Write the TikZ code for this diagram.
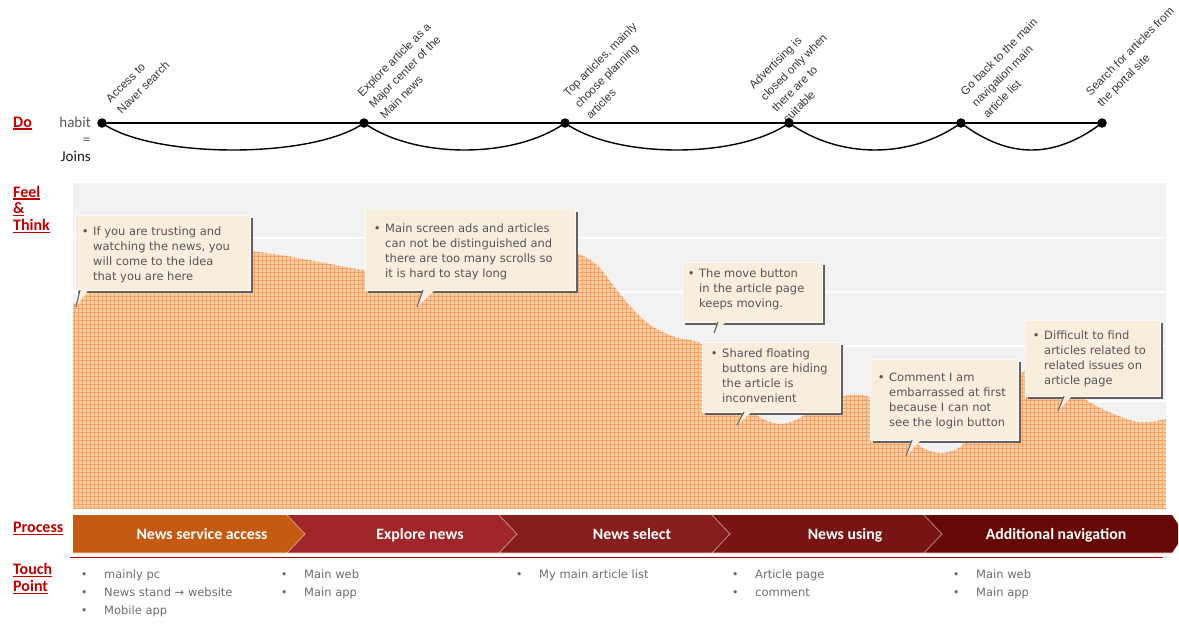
\documentclass[tikz,border=0pt]{standalone}
\usepackage{fontspec}
\setmainfont{DejaVu Sans}
\newfontfamily\calfont{DejaVu Sans}
\newfontfamily\labfont{Carlito}
\newfontfamily\arfont{Liberation Sans}
\usetikzlibrary{shadows}
\definecolor{redlab}{RGB}{192,0,0}
\definecolor{panelbg}{RGB}{242,242,242}
\definecolor{orfill}{RGB}{250,204,163}
\definecolor{orline}{RGB}{244,163,100}
\definecolor{callbg}{RGB}{249,237,222}
\definecolor{calltxt}{RGB}{85,85,85}
\definecolor{tptxt}{RGB}{110,110,110}
\definecolor{dolabc}{RGB}{55,55,55}
\definecolor{segA}{RGB}{197,90,18}
\definecolor{segB}{RGB}{160,38,42}
\definecolor{segC}{RGB}{135,30,30}
\definecolor{segD}{RGB}{120,20,20}
\definecolor{segE}{RGB}{102,8,8}
\newcommand{\ulred}[1]{\vtop{\hbox{#1}\kern1.3pt\hrule height1.4pt}}
\newcommand{\cbul}{\llap{•\hspace{4.6pt}}}
\newcommand{\tbul}{\llap{•\hspace{16.6pt}}}
\begin{document}
\begin{tikzpicture}[x=1pt,y=-1pt,
  lab/.style={inner sep=0pt, anchor=base west, text=redlab, font=\labfont\bfseries\fontsize{16}{18}\selectfont},
  habitlab/.style={inner sep=0pt, anchor=base east, font=\labfont\fontsize{15}{17}\selectfont},
  dolab/.style={rotate=45, anchor=south west, align=left, inner sep=0pt, text=dolabc, font=\arfont\fontsize{11.5}{16}\selectfont},
  dot/.style={circle, fill=black, inner sep=0pt, minimum size=9.5pt},
  mainline/.style={line width=1.8pt, black},
  arcline/.style={line width=1.4pt, black},
  orgrid/.style={orline, line width=0.55pt},
  callbox/.style={fill=callbg, inner sep=0pt, anchor=north west, draw=white!70!callbg, line width=0.6pt,
     drop shadow={shadow xshift=2.5pt, shadow yshift=-2.5pt, fill=black!62, opacity=1}},
  calltext/.style={anchor=north west, inner sep=0pt, align=left, text=calltxt, font=\calfont\fontsize{11.5}{15.2}\selectfont},
  tailfill/.style={fill=callbg},
  tailedge/.style={draw=black!60, line width=1.1pt},
  tptext/.style={anchor=north west, inner sep=0pt, align=left, text=tptxt, font=\calfont\fontsize{11.5}{18}\selectfont},
  proctext/.style={anchor=base, inner sep=0pt, text=white, font=\labfont\bfseries\fontsize{15.8}{18}\selectfont},
  sepline/.style={draw=white, draw opacity=0.45, line width=0.8pt}
]
\useasboundingbox[fill=white] (0,0) rectangle (1179,630);

% ---------- left row labels ----------
\node[lab] (ldo) at (13,127) {\ulred{Do}};
\node[lab] (lfeel) at (13,197) {\ulred{Feel}};
\node[lab] (land) at (13,213.5) {\ulred{\&}};
\node[lab] (lthink) at (13,230.5) {\ulred{Think}};
\node[lab] (lproc) at (13,532.5) {\ulred{Process}};
\node[lab] (ltouch) at (13,574.5) {\ulred{Touch}};
\node[lab] (lpoint) at (13,591.5) {\ulred{Point}};

\node[habitlab, text=black!65] (hab) at (91,127.3) {habit};
\node[habitlab, text=black!65] (heq) at (90.5,144) {=};
\node[habitlab, text=black!90] (hjoin) at (91,161.7) {Joins};

% ---------- Do row ----------
\node[dolab] (t1) at (122,115) {Access to\\Naver search};
\node[dolab] (t2) at (385,120) {Explore article as a\\Major center of the\\Main news};
\node[dolab] (t3) at (591,120) {Top articles, mainly\\choose planning\\articles};
\node[dolab] (t4) at (788,124) {Advertising is\\closed only when\\there are to\\suitable};
\node[dolab] (t5) at (988,119) {Go back to the main\\navigation main\\article list};
\node[dolab] (t6) at (1103.5,109.5) {Search for articles from\\the portal site};

\node[dot] (d1) at (102,123) {};
\node[dot] (d2) at (364,123) {};
\node[dot] (d3) at (565,123) {};
\node[dot] (d4) at (789,123) {};
\node[dot] (d5) at (961,123) {};
\node[dot] (d6) at (1102,123) {};
\draw[mainline] (d1.center) -- (d6.center);
\draw[arcline] (d1.center) .. controls +(51,36) and +(-51,36) .. (d2.center);
\draw[arcline] (d2.center) .. controls +(51,36) and +(-51,36) .. (d3.center);
\draw[arcline] (d3.center) .. controls +(51,36) and +(-51,36) .. (d4.center);
\draw[arcline] (d4.center) .. controls +(51,36) and +(-51,36) .. (d5.center);
\draw[arcline] (d5.center) .. controls +(48,36) and +(-48,36) .. (d6.center);

% ---------- Feel & Think panel ----------
\fill[panelbg] (73,183) rectangle (1166,509);
\foreach \ly in {238,292,346,401,455} \draw[white, line width=1.3pt] (73,\ly) -- (1166,\ly);
\begin{scope}
\clip plot[smooth, tension=0.5] coordinates {(73,305) (120,271) (175,253) (225,249) (280,255) (330,264) (365,270) (420,270) (480,262) (540,254) (575,253) (597,265) (613,285) (630,306) (650,325) (675,337) (700,343) (722,362) (745,404) (763,419) (780,424) (796,420) (812,410) (832,399) (852,395) (872,398) (897,421) (920,446) (940,453) (960,447) (985,420) (1008,386) (1025,371) (1045,373) (1070,390) (1100,408) (1133,421) (1150,422) (1166,419)} -- (1166,509) -- (73,509) -- cycle;
\fill[orfill] (73,230) rectangle (1166,509);
\foreach \gx in {74,78,...,1166} \draw[orgrid] (\gx,230) -- (\gx,510);
\foreach \gy in {232,236,...,509} \draw[orgrid] (73,\gy) -- (1166,\gy);
\end{scope}

% callout boxes
\node[callbox, minimum width=175pt, minimum height=75pt] (c1) at (75,215) {};
\node[callbox, minimum width=210pt, minimum height=81pt] (c2) at (365,209) {};
\node[callbox, minimum width=140pt, minimum height=60pt] (c3) at (682,262) {};
\node[callbox, minimum width=138pt, minimum height=70pt] (c4) at (702,342) {};
\node[callbox, minimum width=148pt, minimum height=81pt] (c5) at (870,359) {};
\node[callbox, minimum width=135pt, minimum height=76pt] (c6) at (1025,320) {};

% tails
\fill[tailfill] (80,289) -- (89,289) -- (76,307) -- cycle;
\draw[tailedge] (80,290) -- (76,307);
\fill[tailfill] (423,289) -- (436,289) -- (417,307) -- cycle;
\draw[tailedge] (423,290) -- (417,307);
\fill[tailfill] (718,321) -- (727,321) -- (714,333) -- cycle;
\draw[tailedge] (718,322) -- (714,333);
\fill[tailfill] (744,411) -- (753,411) -- (737,425) -- cycle;
\draw[tailedge] (744,412) -- (737,425);
\fill[tailfill] (912,439) -- (922,439) -- (906,456) -- cycle;
\draw[tailedge] (912,440) -- (906,456);
\fill[tailfill] (1064,395) -- (1073,395) -- (1058,411) -- cycle;
\draw[tailedge] (1064,396) -- (1058,411);

\node[calltext] (ct1) at (93,226.3) {\cbul If you are trusting and\\watching the news, you\\will come to the idea\\that you are here};
\node[calltext] (ct2) at (385,223.3) {\cbul Main screen ads and articles\\can not be distinguished and\\there are too many scrolls so\\it is hard to stay long};
\node[calltext] (ct3) at (699,268.3) {\cbul The move button\\in the article page\\keeps moving.};
\node[calltext] (ct4) at (722,348.3) {\cbul Shared floating\\buttons are hiding\\the article is\\inconvenient};
\node[calltext] (ct5) at (889,372.3) {\cbul Comment I am\\embarrassed at first\\because I can not\\see the login button};
\node[calltext] (ct6) at (1044,330.3) {\cbul Difficult to find\\articles related to\\related issues on\\article page};

% ---------- Process bar ----------
\fill[segA] (73,515) -- (287,515) -- (305,534) -- (287,553) -- (73,553) -- cycle;
\fill[segB] (287,515) -- (499,515) -- (517,534) -- (499,553) -- (287,553) -- (305,534) -- cycle;
\fill[segC] (499,515) -- (712,515) -- (730,534) -- (712,553) -- (499,553) -- (517,534) -- cycle;
\fill[segD] (712,515) -- (924,515) -- (942,534) -- (924,553) -- (712,553) -- (730,534) -- cycle;
\fill[segE] (924,515) -- (1172,515) -- (1178,524) -- (1178,544) -- (1172,553) -- (924,553) -- (942,534) -- cycle;
\draw[sepline] (287,515) -- (305,534) -- (287,553);
\draw[sepline] (499,515) -- (517,534) -- (499,553);
\draw[sepline] (712,515) -- (730,534) -- (712,553);
\draw[sepline] (924,515) -- (942,534) -- (924,553);
\draw[white, opacity=0.3, line width=1pt] (73,552.5) -- (1172,552.5);
\draw[redlab, line width=1pt] (70,557.5) -- (1163,557.5);

\node[proctext] (p1) at (202,539.3) {News service access};
\node[proctext] (p2) at (420,539.3) {Explore news};
\node[proctext] (p3) at (632,539.3) {News select};
\node[proctext] (p4) at (845,539.3) {News using};
\node[proctext] (p5) at (1056,539.3) {Additional navigation};

% ---------- Touch points ----------
\node[tptext] (tp1) at (104,569.3) {\tbul mainly pc\\\tbul News stand → website\\\tbul Mobile app};
\node[tptext] (tp2) at (304,569.3) {\tbul Main web\\\tbul Main app};
\node[tptext] (tp3) at (539,569.3) {\tbul My main article list};
\node[tptext] (tp4) at (755,569.3) {\tbul Article page\\\tbul comment};
\node[tptext] (tp5) at (976,569.3) {\tbul Main web\\\tbul Main app};
\end{tikzpicture}
\end{document}
